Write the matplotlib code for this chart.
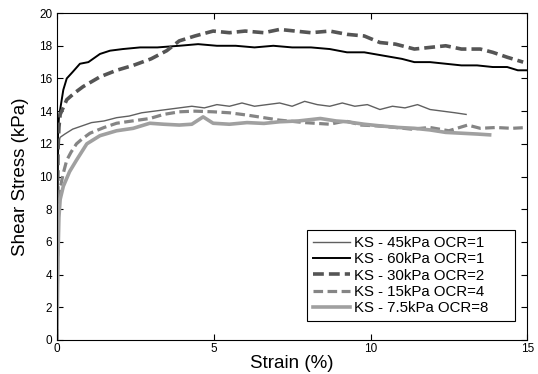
import numpy as np
import matplotlib.pyplot as plt

plt.rcParams['font.family'] = ['Liberation Sans', 'DejaVu Sans']

# KS - 45kPa OCR=1
x45 = [0.0, 0.01, 0.03, 0.06, 0.1, 0.25, 0.5, 0.8, 1.1, 1.5, 1.9, 2.3, 2.7, 3.1, 3.5, 3.9,
       4.3, 4.7, 5.1, 5.5, 5.9, 6.3, 6.7, 7.1, 7.5, 7.9, 8.3, 8.7, 9.1, 9.5, 9.9, 10.3,
       10.7, 11.1, 11.5, 11.9, 12.3, 12.7, 13.05]
y45 = [0.0, 6.0, 11.0, 12.2, 12.4, 12.6, 12.9, 13.1, 13.3, 13.4, 13.6, 13.7, 13.9, 14.0, 14.1, 14.2,
       14.3, 14.2, 14.4, 14.3, 14.5, 14.3, 14.4, 14.5, 14.3, 14.6, 14.4, 14.3, 14.5, 14.3, 14.4, 14.1,
       14.3, 14.2, 14.4, 14.1, 14.0, 13.9, 13.8]

# KS - 60kPa OCR=1
x60 = [0.0, 0.01, 0.03, 0.06, 0.1, 0.2, 0.31, 0.5, 0.73, 1.0, 1.37, 1.69, 2.1, 2.65, 3.2, 3.9,
       4.5, 5.1, 5.7, 6.3, 6.9, 7.5, 8.1, 8.7, 9.25, 9.8, 10.4, 11.0, 11.4, 11.9, 12.4,
       12.9, 13.4, 13.9, 14.36, 14.7, 15.0]
y60 = [0.0, 8.0, 12.5, 13.6, 14.1, 15.3, 16.0, 16.4, 16.9, 17.0, 17.5, 17.7, 17.8, 17.9, 17.9, 18.0,
       18.1, 18.0, 18.0, 17.9, 18.0, 17.9, 17.9, 17.8, 17.6, 17.6, 17.4, 17.2, 17.0, 17.0, 16.9,
       16.8, 16.8, 16.7, 16.7, 16.5, 16.5]

# KS - 30kPa OCR=2
x30 = [0.0, 0.01, 0.03, 0.06, 0.1, 0.31, 0.55, 0.83, 1.1, 1.37, 1.9, 2.43, 3.0, 3.5, 3.9,
       4.4, 4.98, 5.5, 6.0, 6.6, 7.1, 7.6, 8.1, 8.7, 9.25, 9.8, 10.3, 10.8, 11.4, 11.9,
       12.4, 12.9, 13.5, 13.9, 14.36, 14.87]
y30 = [0.0, 7.0, 11.5, 13.0, 13.8, 14.7, 15.1, 15.5, 15.8, 16.1, 16.5, 16.8, 17.2, 17.7, 18.3,
       18.6, 18.9, 18.8, 18.9, 18.8, 19.0, 18.9, 18.8, 18.9, 18.7, 18.6, 18.2, 18.1, 17.8, 17.9,
       18.0, 17.8, 17.8, 17.6, 17.3, 17.0]

# KS - 15kPa OCR=4
x15 = [0.0, 0.01, 0.03, 0.06, 0.1, 0.2, 0.31, 0.45, 0.62, 0.8, 1.05, 1.5, 1.9, 2.4, 2.96, 3.4, 3.9,
       4.4, 4.98, 5.5, 6.06, 6.6, 7.1, 7.9, 8.7, 9.2, 9.7, 10.2, 10.8, 11.3, 11.9, 12.5, 13.1,
       13.5, 14.0, 14.5, 15.0]
y15 = [0.0, 3.0, 6.5, 8.5, 9.3, 10.2, 11.0, 11.5, 12.0, 12.3, 12.65, 13.0, 13.26, 13.4, 13.55, 13.8, 13.96,
       14.0, 13.96, 13.9, 13.76, 13.6, 13.45, 13.3, 13.2, 13.4, 13.15, 13.1, 13.0, 12.9, 13.0, 12.8, 13.15,
       12.95, 13.0, 12.95, 13.0]

# KS - 7.5kPa OCR=8
x75 = [0.0, 0.01, 0.03, 0.06, 0.1, 0.2, 0.4, 0.62, 0.95, 1.37, 1.9, 2.43, 2.96, 3.4, 3.9,
       4.3, 4.66, 4.98, 5.5, 6.06, 6.6, 7.1, 7.7, 8.4, 8.9, 9.25, 9.8, 10.3, 10.9, 11.4,
       11.9, 12.4, 12.9, 13.4, 13.8]
y75 = [0.0, 2.0, 5.0, 7.5, 8.6, 9.4, 10.3, 11.0, 12.0, 12.5, 12.8, 12.95, 13.26, 13.2, 13.15,
       13.2, 13.65, 13.26, 13.2, 13.3, 13.25, 13.35, 13.4, 13.55, 13.4, 13.35, 13.2, 13.1, 13.0, 12.95,
       12.85, 12.7, 12.65, 12.6, 12.55]

fig = plt.figure(figsize=(5.38, 3.74), dpi=100)
ax = fig.add_axes([0.106, 0.091, 0.874, 0.874])

ax.plot(x45, y45, color='#606060', lw=1.0, label='KS - 45kPa OCR=1')
ax.plot(x60, y60, color='black', lw=1.4, label='KS - 60kPa OCR=1')
ax.plot(x30, y30, color='#555555', lw=2.6, dashes=(3, 1.4), label='KS - 30kPa OCR=2')
ax.plot(x15, y15, color='#858585', lw=2.3, dashes=(3, 1.4), label='KS - 15kPa OCR=4')
ax.plot(x75, y75, color='#a0a0a0', lw=2.6, label='KS - 7.5kPa OCR=8')

ax.set_xlim(0, 15)
ax.set_ylim(0, 20)
ax.set_xticks([0, 5, 10, 15])
ax.set_yticks(np.arange(0, 21, 2))
ax.tick_params(direction='in', top=True, right=True, labelsize=8.5, length=4)
ax.tick_params(axis='x', pad=2)
ax.set_xlabel('Strain (%)', fontsize=13.5, labelpad=0)
ax.set_ylabel('Shear Stress (kPa)', fontsize=13.5, labelpad=7)

# MATLAB-style legend box: wider than its text, extra room on the right
leg = ax.legend(loc='lower left', bbox_to_anchor=(0.532, 0.058, 0.4426, 0.3), mode='expand',
                borderaxespad=0, fontsize=10.8, handlelength=2.45, handletextpad=0.25,
                labelspacing=0.15, borderpad=0.4, fancybox=False, framealpha=1,
                edgecolor='black')
leg.get_frame().set_linewidth(0.8)

fig.savefig('out.png', dpi=100)
